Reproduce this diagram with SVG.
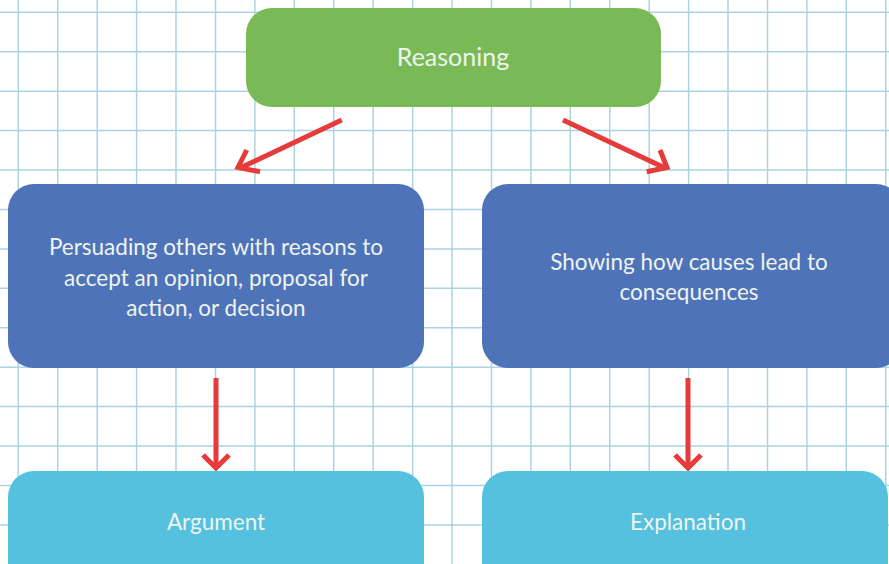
<svg xmlns="http://www.w3.org/2000/svg" width="889" height="564" viewBox="0 0 889 564">
<style>
.g{fill:none;stroke:#acd3e2;stroke-width:1.5}
.t{font-family:"Lato","Open Sans",sans-serif;fill:#eef4ee;text-anchor:middle;font-size:22.5px}
.a{fill:none;stroke:#e53b3b;stroke-width:5;stroke-linecap:butt;stroke-linejoin:miter}
</style>
<rect width="889" height="564" fill="#ffffff"/>
<path class="g" d="M18.3 0V564M57.7 0V564M97.2 0V564M136.6 0V564M176 0V564M215.5 0V564M254.9 0V564M294.3 0V564M333.7 0V564M373.2 0V564M412.6 0V564M452 0V564M491.5 0V564M530.9 0V564M570.3 0V564M609.8 0V564M649.2 0V564M688.6 0V564M728 0V564M767.5 0V564M806.9 0V564M846.3 0V564M885.8 0V564M0 12.3H889M0 51.7H889M0 91.2H889M0 130.6H889M0 170H889M0 209.5H889M0 248.9H889M0 288.3H889M0 327.7H889M0 367.2H889M0 406.6H889M0 446H889M0 485.5H889M0 524.9H889"/>
<g id="connectors">
<path class="a" d="M341.7 120 L240 168"/>
<path class="a" d="M246.7 150 L238 167.5 L260 171.7"/>
<path class="a" d="M563 120 L665 168"/>
<path class="a" d="M660 150 L667 167.5 L646.7 171.7"/>
<path class="a" d="M216 378 V466"/>
<path class="a" d="M203 455 L216 468 L229 455"/>
<path class="a" d="M688 378 V466"/>
<path class="a" d="M675 455 L688 468 L701 455"/>
</g>
<g id="reasoning">
<rect x="246" y="8" width="415" height="99" rx="26" fill="#7aba56"/>
<text class="t" x="453" y="66" style="font-size:25px">Reasoning</text>
</g>
<g id="persuading">
<rect x="8" y="184" width="416" height="184" rx="26" fill="#4f73b8"/>
<text class="t" x="216" y="255">Persuading others with reasons to</text>
<text class="t" x="216" y="286">accept an opinion, proposal for</text>
<text class="t" x="216" y="316">action, or decision</text>
</g>
<g id="showing">
<rect x="482" y="184" width="420" height="184" rx="26" fill="#4f73b8"/>
<text class="t" x="689" y="270">Showing how causes lead to</text>
<text class="t" x="689" y="300">consequences</text>
</g>
<g id="argument">
<rect x="8" y="471" width="416" height="130" rx="26" fill="#55c1de"/>
<text class="t" x="216" y="530">Argument</text>
</g>
<g id="explanation">
<rect x="482" y="471" width="406" height="130" rx="26" fill="#55c1de"/>
<text class="t" x="688" y="530">Explanation</text>
</g>
</svg>
